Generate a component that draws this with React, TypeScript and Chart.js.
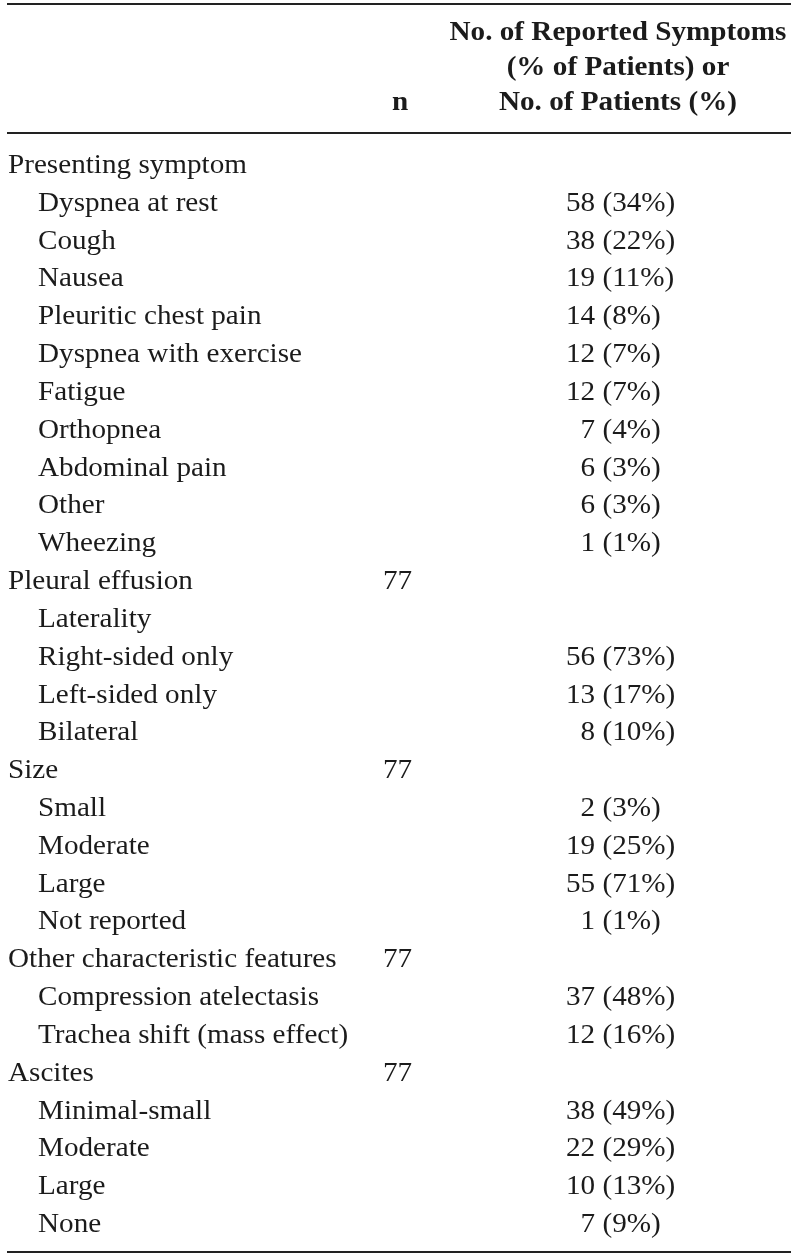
import React, { useEffect, useRef } from "react";
import { Chart, registerables } from "chart.js";

Chart.register(...registerables);

const rowLabels = [
  "Presenting symptom",
  "Dyspnea at rest",
  "Cough",
  "Nausea",
  "Pleuritic chest pain",
  "Dyspnea with exercise",
  "Fatigue",
  "Orthopnea",
  "Abdominal pain",
  "Other",
  "Wheezing",
  "Pleural effusion",
  "Laterality",
  "Right-sided only",
  "Left-sided only",
  "Bilateral",
  "Size",
  "Small",
  "Moderate",
  "Large",
  "Not reported",
  "Other characteristic features",
  "Compression atelectasis",
  "Trachea shift (mass effect)",
  "Ascites",
  "Minimal-small",
  "Moderate",
  "Large",
  "None",
];

const rowLevel = [0, 1, 1, 1, 1, 1, 1, 1, 1, 1, 1, 0, 1, 1, 1, 1, 0, 1, 1, 1, 1, 0, 1, 1, 0, 1, 1, 1, 1];

const nValues: (number | null)[] = [
  null, null, null, null, null, null, null, null, null, null, null,
  77, null, null, null, null,
  77, null, null, null, null,
  77, null, null,
  77, null, null, null, null,
];

const counts: (number | null)[] = [
  null, 58, 38, 19, 14, 12, 12, 7, 6, 6, 1,
  null, null, 56, 13, 8,
  null, 2, 19, 55, 1,
  null, 37, 12,
  null, 38, 22, 10, 7,
];

const percents: (number | null)[] = [
  null, 34, 22, 11, 8, 7, 7, 4, 3, 3, 1,
  null, null, 73, 17, 10,
  null, 3, 25, 71, 1,
  null, 48, 16,
  null, 49, 29, 13, 9,
];

const headerLines = ["No. of Reported Symptoms", "(% of Patients) or", "No. of Patients (%)"];
const nHeader = "n";

const FONT_FAMILY = '"Liberation Serif", "Times New Roman", serif';
const FONT_SIZE = 27;
const SX = 1.08;
const TEXT_COLOR = "#1b1b1b";

function drawText(ctx: CanvasRenderingContext2D, text: string, x: number, y: number, align: CanvasTextAlign) {
  ctx.save();
  ctx.translate(x, y);
  ctx.scale(SX, 1);
  ctx.textAlign = align;
  ctx.textBaseline = "alphabetic";
  ctx.fillText(text, 0, 0);
  ctx.restore();
}

const tablePlugin = {
  id: "tablePlugin",
  afterDraw(chart: any) {
    const ctx: CanvasRenderingContext2D = chart.ctx;
    const yScale = chart.scales.y;
    ctx.save();
    ctx.fillStyle = TEXT_COLOR;

    // rules
    ctx.strokeStyle = "#222222";
    ctx.lineWidth = 2;
    [4, 133, 1252].forEach((y) => {
      ctx.beginPath();
      ctx.moveTo(7, y);
      ctx.lineTo(791, y);
      ctx.stroke();
    });

    // header
    ctx.font = `bold ${FONT_SIZE}px ${FONT_FAMILY}`;
    const headerBaselines = [40, 75, 110];
    headerLines.forEach((t, i) => drawText(ctx, t, 618, headerBaselines[i], "center"));
    drawText(ctx, nHeader, 400, 110, "center");

    // body
    ctx.font = `${FONT_SIZE}px ${FONT_FAMILY}`;
    const digitW = ctx.measureText("0").width * SX;
    rowLabels.forEach((label, i) => {
      const y = yScale.getPixelForValue(i) + 9;
      drawText(ctx, label, rowLevel[i] ? 38 : 8, y, "left");
      const n = nValues[i];
      if (n !== null) drawText(ctx, String(n), 383, y, "left");
      const c = counts[i];
      const p = percents[i];
      if (c !== null && p !== null) {
        const x = 566 + (c < 10 ? digitW : 0);
        drawText(ctx, `${c} (${p}%)`, x, y, "left");
      }
    });
    ctx.restore();
  },
};

export default function App() {
  const canvasRef = useRef<HTMLCanvasElement | null>(null);

  useEffect(() => {
    const canvas = canvasRef.current;
    if (!canvas) return;
    const chart = new Chart(canvas, {
      type: "bar",
      data: {
        labels: rowLabels,
        datasets: [
          {
            label: "No. of patients",
            data: counts as any,
            backgroundColor: "rgba(0,0,0,0)",
            borderWidth: 0,
          },
        ],
      },
      options: {
        indexAxis: "y",
        responsive: false,
        animation: false,
        devicePixelRatio: 1,
        layout: { padding: { top: 145, bottom: 13, left: 0, right: 0 } },
        plugins: {
          legend: { display: false },
          tooltip: { enabled: false },
          title: { display: false },
        },
        scales: {
          x: { display: false, min: 0, max: 100 },
          y: { display: false, offset: true },
        },
      },
      plugins: [tablePlugin],
    });
    return () => chart.destroy();
  }, []);

  return (
    <div style={{ position: "absolute", left: 0, top: 0, width: 800, height: 1255, background: "#ffffff" }}>
      <canvas ref={canvasRef} width={800} height={1255} style={{ display: "block" }} />
    </div>
  );
}
